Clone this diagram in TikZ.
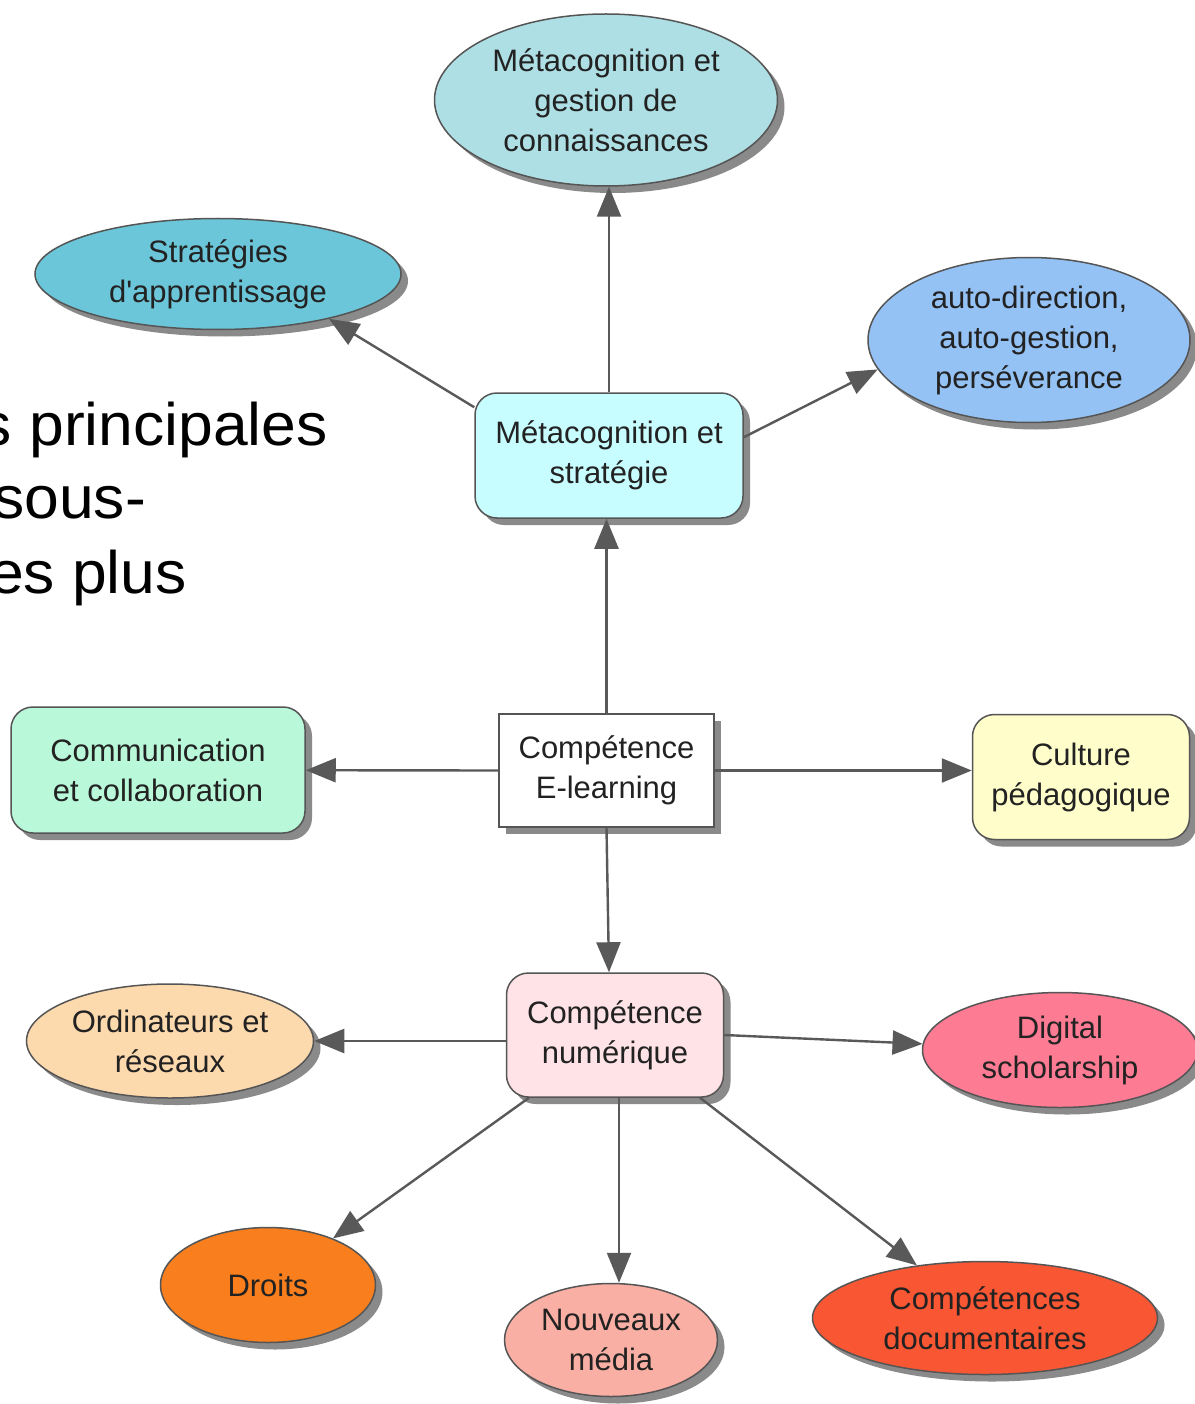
\documentclass[tikz,border=0pt]{standalone}
\usepackage{fontspec}
\setmainfont{Liberation Sans}
\newfontfamily\bigfont[FakeStretch=1.04]{Liberation Sans}
\usetikzlibrary{shapes.geometric,shadows,arrows.meta}
\definecolor{bordc}{HTML}{555555}
\definecolor{arrc}{HTML}{595959}
\definecolor{txtc}{HTML}{222222}
\definecolor{shadc}{HTML}{8A8A8A}
\definecolor{cmg}{HTML}{AEDFE4}
\definecolor{csa}{HTML}{6CC6D9}
\definecolor{cad}{HTML}{94C2F4}
\definecolor{cms}{HTML}{C8FDFF}
\definecolor{ccc}{HTML}{B9F9D9}
\definecolor{ccp}{HTML}{FFFDC9}
\definecolor{ccn}{HTML}{FFE3E6}
\definecolor{cor}{HTML}{FDD9AE}
\definecolor{cds}{HTML}{FD7B93}
\definecolor{cdr}{HTML}{F97F1E}
\definecolor{cnm}{HTML}{F9AFA3}
\definecolor{ccd}{HTML}{F95734}
\begin{document}
\begin{tikzpicture}[x=1pt,y=-1pt,
  base/.style={draw=bordc, line width=1.5pt, align=center, text=txtc,
    font=\fontsize{31}{40}\selectfont, inner sep=0pt,
    drop shadow={shadow xshift=7pt, shadow yshift=-7pt, fill=shadc, opacity=1}},
  ell/.style={base, ellipse},
  rbox/.style={base, rectangle, rounded corners=22pt},
  sbox/.style={base, rectangle},
  arr/.style={draw=arrc, line width=2.4pt, -{Triangle[length=30pt,width=24pt]}},
  bigtxt/.style={inner sep=0pt, font=\bigfont\fontsize{60}{74}\selectfont}]
\useasboundingbox (0,0) rectangle (1194,1404);
\fill[white] (0,0) rectangle (1194,1404);

% big background text
\node[bigtxt, anchor=base east] (t1) at (328,445) {s principales};
\node[bigtxt, anchor=base east] (t2) at (146,518) {sous-};
\node[bigtxt, anchor=base east] (t3) at (187,593) {es plus};

% nodes
\node[ell, fill=cmg, minimum width=343pt, minimum height=172pt] (mg) at (606,100) {Métacognition et\\gestion de\\connaissances};
\node[ell, fill=csa, minimum width=366pt, minimum height=111pt] (sa) at (218,274) {Stratégies\\d\textquotesingle apprentissage};
\node[ell, fill=cad, minimum width=322pt, minimum height=165pt] (ad) at (1029,340) {auto-direction,\\auto-gestion,\\perséverance};
\node[rbox, fill=cms, minimum width=268pt, minimum height=125pt] (ms) at (609,455.5) {Métacognition et\\stratégie};
\node[sbox, fill=white, minimum width=215pt, minimum height=113pt] (el) at (606.5,770.5) {Compétence\\E-learning};
\node[rbox, fill=ccc, minimum width=294pt, minimum height=126pt] (cc) at (158,770) {Communication\\et collaboration};
\node[rbox, fill=ccp, minimum width=217pt, minimum height=125pt] (cp) at (1081,777) {Culture\\pédagogique};
\node[rbox, fill=ccn, minimum width=217pt, minimum height=124pt] (cn) at (615,1035) {Compétence\\numérique};
\node[ell, fill=cor, minimum width=287pt, minimum height=114pt] (or) at (170,1041) {Ordinateurs et\\réseaux};
\node[ell, fill=cds, minimum width=275pt, minimum height=115pt] (ds) at (1060,1050) {Digital\\scholarship};
\node[ell, fill=cdr, minimum width=215pt, minimum height=115pt] (dr) at (268,1285) {Droits};
\node[ell, fill=cnm, minimum width=213pt, minimum height=113pt] (nm) at (611,1340) {Nouveaux\\média};
\node[ell, fill=ccd, minimum width=345pt, minimum height=113pt] (cd) at (985,1318) {Compétences\\documentaires};

% connectors
\draw[arr] (ms.north) -- (ms.north |- mg.south);
\draw[arr] ([yshift=-15pt]ms.north west) -- (sa.-22);
\draw[arr] ([yshift=-45pt]ms.north east) -- (ad.191.6);
\draw[arr] (el.north) -- (el.north |- ms.south);
\draw[arr] (el.west) -- (cc);
\draw[arr] (el.east) -- (el.east -| cp.west);
\draw[arr] (el.south) -- ([xshift=-6pt]cn.north);
\draw[arr] (cn.west |- or) -- (or);
\draw[arr] (cn.east) -- (ds);
\draw[arr] ([xshift=-86pt]cn.south) -- (dr);
\draw[arr] ([xshift=4pt]cn.south) -- ([xshift=4pt]cn.south |- nm.north);
\draw[arr] ([xshift=85pt]cn.south) -- (cd);
\end{tikzpicture}
\end{document}
